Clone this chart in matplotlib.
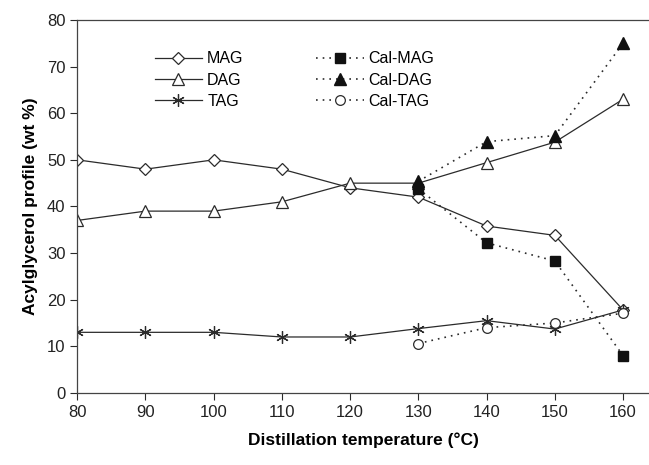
import matplotlib
matplotlib.use("Agg")
import matplotlib.pyplot as plt

plt.rcParams['font.family'] = ['Liberation Sans', 'DejaVu Sans']

temps = [80, 90, 100, 110, 120, 130, 140, 150, 160]
mag = [50, 48, 50, 48, 44, 42, 35.8, 33.8, 17.8]
dag = [37, 39, 39, 41, 45, 45, 49.4, 53.8, 63]
tag = [13, 13, 13, 12, 12, 13.8, 15.5, 13.7, 17.8]

cal_temps = [130, 140, 150, 160]
cal_mag = [43.8, 32.2, 28.3, 8.0]
cal_dag = [45.4, 53.9, 55.2, 75]
cal_tag = [10.6, 14.0, 15.0, 17.1]

lc = '#2b2b2b'

fig = plt.figure(figsize=(6.49, 4.65), dpi=100)
ax = fig.add_axes([0.119, 0.155, 0.881, 0.802])

ax.plot(temps, mag, color=lc, lw=0.9, marker='D', ms=6, mfc='white', mec=lc, mew=0.9, label='MAG')
ax.plot(temps, dag, color=lc, lw=0.9, marker='^', ms=8, mfc='white', mec=lc, mew=0.9, label='DAG')
ax.plot(temps, tag, color=lc, lw=0.9, marker=(6, 2, 0), ms=9, mec=lc, mew=0.9, label='TAG')
ax.plot(cal_temps, cal_mag, color=lc, lw=1.2, ls=(0, (1, 3)), marker='s', ms=6.5, mfc='#111111', mec='#111111', label='Cal-MAG')
ax.plot(cal_temps, cal_dag, color=lc, lw=1.2, ls=(0, (1, 3)), marker='^', ms=8, mfc='#111111', mec='#111111', label='Cal-DAG')
ax.plot(cal_temps, cal_tag, color=lc, lw=1.2, ls=(0, (1, 3)), marker='o', ms=7, mfc='white', mec=lc, mew=0.9, label='Cal-TAG')

ax.set_xlim(80, 163.8)
ax.set_ylim(0, 80)
ax.set_xticks(temps)
ax.set_yticks(range(0, 81, 10))
ax.tick_params(direction='out', length=5, width=0.8, colors=lc, labelsize=12, labelcolor='#222222')
ax.spines['right'].set_visible(False)
for s in ['left', 'bottom', 'top']:
    ax.spines[s].set_color('#444444')
    ax.spines[s].set_linewidth(0.9)

ax.set_xlabel('Distillation temperature (°C)', fontsize=12.5, fontweight='bold', labelpad=9)
ax.set_ylabel('Acylglycerol profile (wt %)', fontsize=12.5, fontweight='bold', labelpad=6)

ax.legend(loc='upper left', bbox_to_anchor=(0.11, 0.955), ncol=2, frameon=False,
          fontsize=11.5, handlelength=3.0, columnspacing=4.5, labelspacing=0.4,
          handletextpad=0.3)

fig.savefig('out.png', dpi=100)
